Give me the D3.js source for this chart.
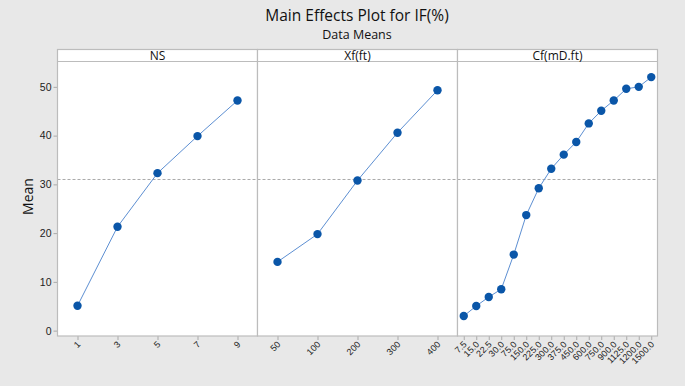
<!DOCTYPE html>
<html>
<head>
<meta charset="utf-8">
<script src="https://cdn.jsdelivr.net/npm/d3@7"></script>
<style>
	body { margin: 0; background: #e8e8e8; }
	svg { font-family: "Open Sans", "Noto Sans", sans-serif; display: block; }
	.tick text { fill: #222; }
</style>
</head>
<body>
<svg width="685" height="386"></svg>
<script>
// data
let nsLevels = ['1', '3', '5', '7', '9'];
let nsMeans = [5.1, 21.3, 32.3, 39.9, 47.2];

let xfLevels = ['50', '100', '200', '300', '400'];
let xfMeans = [14.1, 19.8, 30.8, 40.6, 49.3];

let cfLevels = ['7.5', '15.0', '22.5', '30.0', '75.0', '150.0', '225.0', '300.0', '375.0', '450.0',
	'600.0', '750.0', '900.0', '1125.0', '1200.0', '1500.0'];
let cfMeans = [3.0, 5.05, 6.9, 8.5, 15.6, 23.7, 29.2, 33.2, 36.1, 38.7,
	42.5, 45.1, 47.2, 49.6, 50.0, 52.0];

let panelNames = ['NS', 'Xf(ft)', 'Cf(mD.ft)'];
let yTicks = [0, 10, 20, 30, 40, 50];
let grandMean = 31.0;

let panels = [
	{ name: panelNames[0], levels: nsLevels, means: nsMeans },
	{ name: panelNames[1], levels: xfLevels, means: xfMeans },
	{ name: panelNames[2], levels: cfLevels, means: cfMeans }
];

let svg = d3.select('svg');
let left = 57.5, right = 657.5;
let headerTop = 49.5, plotTop = 61.5, plotBottom = 336;
let panelW = (right - left) / panels.length;

let yScale = d3.scaleLinear().domain([-1.1, 55.2]).range([plotBottom, plotTop]);

// titles
svg.append('text')
	.attr('x', 357).attr('y', 21)
	.attr('text-anchor', 'middle')
	.attr('font-size', 15.5).attr('fill', '#111')
	.text('Main Effects Plot for IF(%)');
svg.append('text')
	.attr('x', 357).attr('y', 38.5)
	.attr('text-anchor', 'middle')
	.attr('font-size', 12.5).attr('fill', '#111')
	.text('Data Means');

// y label
svg.append('text')
	.attr('transform', 'translate(33,' + yScale(27.5) + ') rotate(-90)')
	.attr('text-anchor', 'middle')
	.attr('font-size', 14).attr('fill', '#111')
	.text('Mean');

// y axis
let yAxis = svg.append('g')
	.attr('transform', 'translate(' + left + ',0)')
	.call(d3.axisLeft(yScale).tickValues(yTicks).tickSize(4).tickPadding(2));
yAxis.select('.domain').remove();
yAxis.selectAll('.tick line').attr('stroke', '#aaa');
yAxis.selectAll('.tick text').attr('font-size', 10.5);

panels.forEach(function(p, i) {
	let x0 = left + i * panelW;
	let g = svg.append('g').attr('transform', 'translate(' + x0 + ',0)');
	let xScale = d3.scalePoint().domain(p.levels).range([0, panelW]).padding(0.5);

	// panel background
	g.append('rect')
		.attr('x', 0).attr('y', headerTop)
		.attr('width', panelW).attr('height', plotBottom - headerTop)
		.attr('fill', '#fff');

	// header
	g.append('line')
		.attr('x1', 0).attr('x2', panelW)
		.attr('y1', plotTop).attr('y2', plotTop)
		.attr('stroke', '#bcbcbc').attr('stroke-width', 1.2);
	g.append('text')
		.attr('x', panelW / 2).attr('y', 59.5)
		.attr('text-anchor', 'middle')
		.attr('font-size', 12).attr('fill', '#111')
		.text(p.name);

	// reference line
	g.append('line')
		.attr('x1', 0).attr('x2', panelW)
		.attr('y1', yScale(grandMean)).attr('y2', yScale(grandMean))
		.attr('stroke', '#aaa').attr('stroke-dasharray', '3,2');

	// x axis
	let xAxis = g.append('g')
		.attr('transform', 'translate(0,' + plotBottom + ')')
		.call(d3.axisBottom(xScale).tickSize(4).tickSizeOuter(0));
	xAxis.select('.domain').remove();
	xAxis.selectAll('.tick line').attr('stroke', '#aaa');
	xAxis.selectAll('.tick text')
		.attr('font-size', 9)
		.attr('text-anchor', 'end')
		.attr('dy', null)
		.attr('y', 0)
		.attr('transform', 'translate(3,9) rotate(-45)');

	// line and points
	let pts = p.levels.map(function(l, k) { return [xScale(l), yScale(p.means[k])]; });
	g.append('path')
		.attr('d', d3.line()(pts))
		.attr('fill', 'none')
		.attr('stroke', '#5d8fd2').attr('stroke-width', 1);
	g.selectAll('circle').data(pts).enter().append('circle')
		.attr('cx', function(d) { return d[0]; })
		.attr('cy', function(d) { return d[1]; })
		.attr('r', 4.2)
		.attr('fill', '#0a56a8');

	// frame
	g.append('rect')
		.attr('x', 0).attr('y', headerTop)
		.attr('width', panelW).attr('height', plotBottom - headerTop)
		.attr('fill', 'none')
		.attr('stroke', '#bcbcbc').attr('stroke-width', 1.2);
});
</script>
</body>
</html>
